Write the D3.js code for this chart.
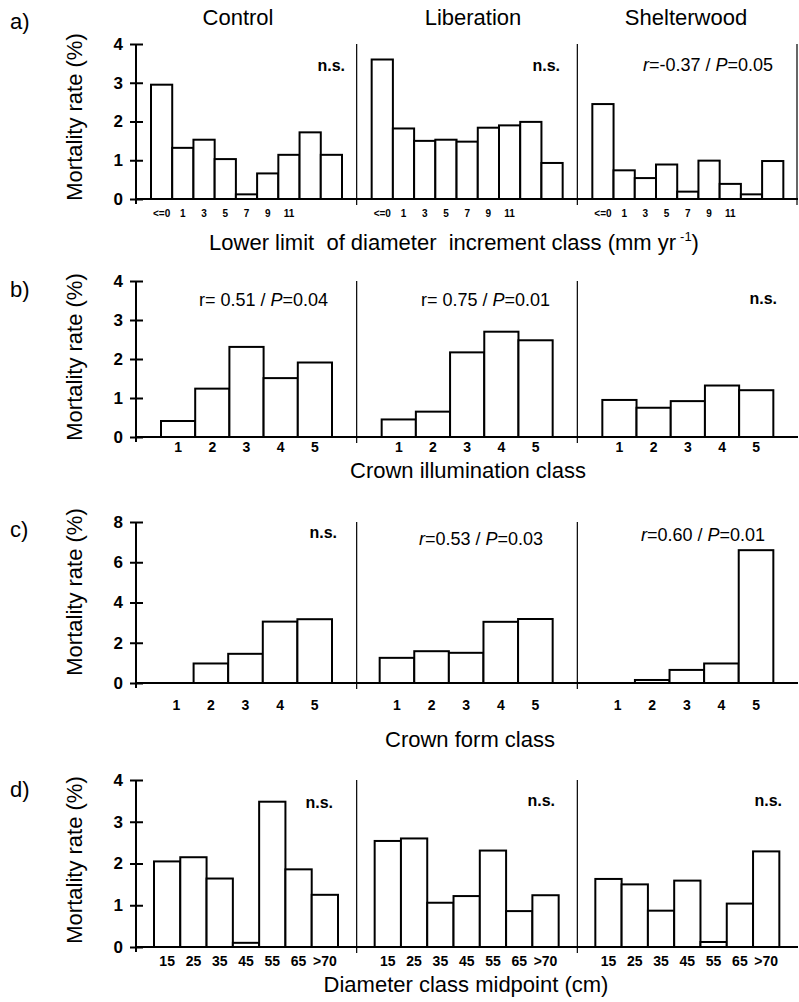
<!DOCTYPE html>
<html>
<head>
<meta charset="utf-8">
<script src="https://cdn.jsdelivr.net/npm/d3@7"></script>
<style>
  html, body { margin: 0; padding: 0; background: #fff; }
  svg { display: block; font-family: "Liberation Sans", Arial, Helvetica, sans-serif; }
  text { white-space: pre; }
</style>
</head>
<body>
<svg id="chart" width="799" height="1002"></svg>
<script>
// ---------- DATA ----------
const treatments = ["Control", "Liberation", "Shelterwood"];

const incLabels = ["<=0", "1", "3", "5", "7", "9", "11", "", ""];
const incControl = [2.95, 1.32, 1.53, 1.03, 0.12, 0.66, 1.14, 1.72, 1.14];
const incLiberation = [3.6, 1.82, 1.5, 1.53, 1.48, 1.84, 1.9, 1.99, 0.93];
const incShelterwood = [2.45, 0.74, 0.54, 0.89, 0.19, 0.99, 0.39, 0.12, 0.98];
const incStats = ["n.s.", "n.s.", "*r*=-0.37 / *P*=0.05"];

const illumLabels = ["1", "2", "3", "4", "5"];
const illumControl = [0.41, 1.24, 2.31, 1.51, 1.91];
const illumLiberation = [0.45, 0.65, 2.17, 2.7, 2.48];
const illumShelterwood = [0.95, 0.75, 0.92, 1.32, 1.2];
const illumStats = ["r= 0.51 / *P*=0.04", "r= 0.75 / *P*=0.01", "n.s."];

const formLabels = ["1", "2", "3", "4", "5"];
const formControl = [0, 0.97, 1.45, 3.05, 3.17];
const formLiberation = [1.25, 1.58, 1.5, 3.04, 3.18];
const formShelterwood = [0, 0.15, 0.65, 0.97, 6.6];
const formStats = ["n.s.", "*r*=0.53 / *P*=0.03", "*r*=0.60 / *P*=0.01"];

const diamLabels = ["15", "25", "35", "45", "55", "65", ">70"];
const diamControl = [2.05, 2.15, 1.64, 0.1, 3.48, 1.86, 1.25];
const diamLiberation = [2.54, 2.6, 1.06, 1.22, 2.31, 0.86, 1.24];
const diamShelterwood = [1.63, 1.5, 0.87, 1.59, 0.12, 1.04, 2.29];
const diamStats = ["n.s.", "n.s.", "n.s."];

const panelLetters = ["a)", "b)", "c)", "d)"];
const xTitles = [
  "Lower limit  of diameter  increment class (mm yr",
  "Crown illumination class",
  "Crown form class",
  "Diameter class midpoint (cm)"
];
const yTitle = "Mortality rate (%)";
const yTicksA = [0, 1, 2, 3, 4];
const yTicksC = [0, 2, 4, 6, 8];

// ---------- LAYOUT ----------
const panels = [
  { cats: incLabels, series: [incControl, incLiberation, incShelterwood], stats: incStats,
    yMax: 4, ticks: yTicksA, y0: 199, y1: 44, padL: 15, span: 191, tickFont: 10, tickY: 213,
    titleX: 454, titleY: 250, letterY: 29, ylabY: 117,
    statPos: [[345, 71], [560, 71], [773, 71]], rightLine: true },
  { cats: illumLabels, series: [illumControl, illumLiberation, illumShelterwood], stats: illumStats,
    yMax: 4, ticks: yTicksA, y0: 437, y1: 281, padL: 25, span: 171, tickFont: 14, tickY: 447,
    titleX: 468, titleY: 478, letterY: 297, ylabY: 357,
    statPos: [[328, 306], [550, 306], [777, 304]], rightLine: false },
  { cats: formLabels, series: [formControl, formLiberation, formShelterwood], stats: formStats,
    yMax: 8, ticks: yTicksC, y0: 683, y1: 522, padL: 23, span: 173, tickFont: 14, tickY: 705,
    titleX: 470, titleY: 747, letterY: 537, ylabY: 592,
    statPos: [[337, 538], [543, 545], [765, 541]], rightLine: false },
  { cats: diamLabels, series: [diamControl, diamLiberation, diamShelterwood], stats: diamStats,
    yMax: 4, ticks: yTicksA, y0: 947, y1: 780, padL: 18, span: 184, tickFont: 14, tickY: 961,
    titleX: 466, titleY: 992, letterY: 797, ylabY: 860,
    statPos: [[333, 808], [555, 806], [782, 806]], rightLine: false }
];

const svg = d3.select("#chart");
const xLeft = 136, xRight = 798;
const xTreat = d3.scaleBand().domain(treatments).range([xLeft, xRight]).paddingInner(0).paddingOuter(0);

// Column titles
svg.selectAll("text.treat").data(treatments).join("text")
  .attr("class", "treat")
  .attr("x", (d, i) => [238, 473, 686][i])
  .attr("y", 25)
  .attr("text-anchor", "middle")
  .attr("font-size", 22)
  .text(d => d);

function addRichText(sel, str) {
  const parts = str.split("*");
  parts.forEach((p, i) => {
    if (!p) return;
    sel.append("tspan").attr("font-style", i % 2 === 1 ? "italic" : "normal").text(p);
  });
}

panels.forEach((p, pi) => {
  const g = svg.append("g");
  const y = d3.scaleLinear().domain([0, p.yMax]).range([p.y0, p.y1]);

  // panel letter
  g.append("text").attr("x", 10).attr("y", p.letterY).attr("font-size", 22).text(panelLetters[pi]);

  // y axis title
  g.append("text")
    .attr("transform", `translate(82,${p.ylabY}) rotate(-90)`)
    .attr("text-anchor", "middle")
    .attr("font-size", 22)
    .text(yTitle);

  // bars
  treatments.forEach((t, ti) => {
    const x0 = xTreat(t);
    const xb = d3.scaleBand().domain(d3.range(p.cats.length))
      .range([x0 + p.padL, x0 + p.padL + p.span]).paddingInner(0);
    const vals = p.series[ti];
    g.append("g").selectAll("rect").data(vals).join("rect")
      .attr("x", (d, i) => xb(i))
      .attr("y", d => y(d))
      .attr("width", xb.bandwidth())
      .attr("height", d => p.y0 - y(d))
      .attr("fill", "#fff")
      .attr("stroke", d => d > 0 ? "#000" : "none")
      .attr("stroke-width", 2);

    // x tick labels
    const ax = d3.axisBottom(xb).tickSize(0).tickFormat(i => p.cats[i]);
    const axG = g.append("g").attr("transform", `translate(0,${p.tickY})`).call(ax);
    axG.select(".domain").remove();
    axG.selectAll("text")
      .attr("y", 0).attr("dy", "0.35em")
      .attr("font-size", p.tickFont)
      .attr("font-weight", "bold")
      .attr("font-family", "'Liberation Sans', Arial, sans-serif")
      .attr("fill", "#000");

    // stats text
    const st = g.append("text")
      .attr("x", p.statPos[ti][0]).attr("y", p.statPos[ti][1])
      .attr("text-anchor", "end");
    const s = p.stats[ti];
    if (s === "n.s.") {
      st.attr("font-size", 16).attr("font-weight", "bold").text(s);
    } else {
      st.attr("font-size", 18);
      addRichText(st, s);
    }
  });

  // dividers
  const divX = treatments.slice(1).map(t => xTreat(t));
  if (p.rightLine) divX.push(xRight - 1);
  g.selectAll("line.div").data(divX).join("line")
    .attr("class", "div")
    .attr("x1", d => d).attr("x2", d => d)
    .attr("y1", p.y1).attr("y2", p.y0 + 6)
    .attr("stroke", "#000").attr("stroke-width", 1.2);

  // x baseline
  g.append("line")
    .attr("x1", xLeft).attr("x2", xRight)
    .attr("y1", p.y0).attr("y2", p.y0)
    .attr("stroke", "#000").attr("stroke-width", 2);

  // y axis
  const yAx = d3.axisLeft(y).tickValues(p.ticks).tickSize(6).tickFormat(d3.format("d"));
  const yG = g.append("g").attr("transform", `translate(${xLeft},0)`).call(yAx);
  yG.select(".domain").attr("stroke-width", 2).attr("d", `M0,${p.y1}V${p.y0 + 5}`);
  yG.selectAll(".tick line").attr("x1", 7).attr("x2", -6).attr("stroke-width", 2);
  yG.selectAll(".tick text")
    .attr("x", -13)
    .attr("font-size", 17)
    .attr("font-weight", "bold")
    .attr("font-family", "'Liberation Sans', Arial, sans-serif");

  // x title
  const xt = g.append("text")
    .attr("x", p.titleX).attr("y", p.titleY)
    .attr("text-anchor", "middle")
    .attr("font-size", 22)
    .text(xTitles[pi]);
  if (pi === 0) {
    xt.append("tspan").attr("font-size", 13).attr("dy", -9).attr("dx", 4).text("-1");
    xt.append("tspan").attr("dy", 9).text(")");
  }
});
</script>
</body>
</html>
